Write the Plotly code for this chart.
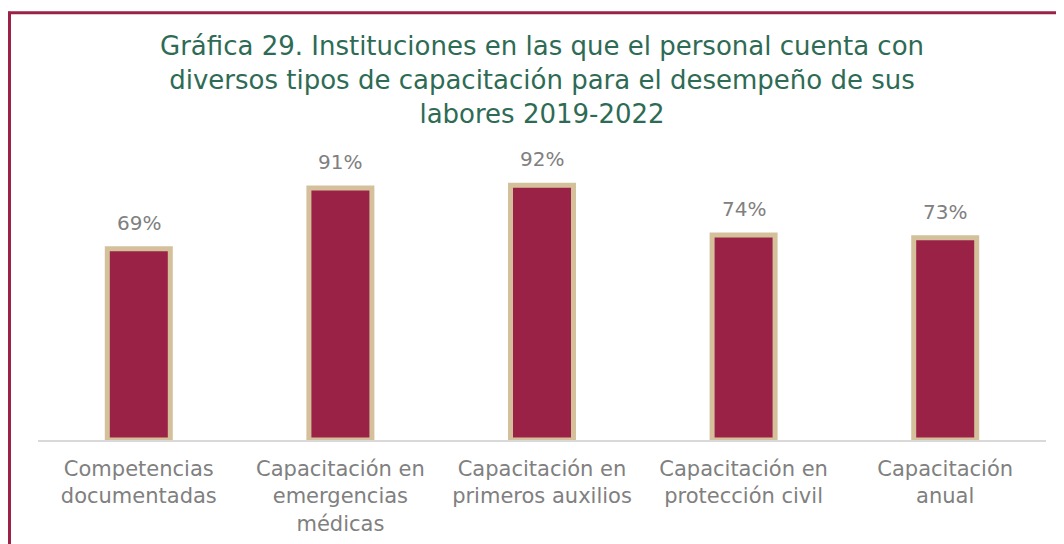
import plotly.graph_objects as go

categories = [
    "Competencias<br>documentadas",
    "Capacitación en<br>emergencias<br>médicas",
    "Capacitación en<br>primeros auxilios",
    "Capacitación en<br>protección civil",
    "Capacitación<br>anual",
]
values = [69, 91, 92, 74, 73]
value_labels = ["69%", "91%", "92%", "74%", "73%"]

title_text = ("Gráfica 29. Instituciones en las que el personal cuenta con<br>"
              "diversos tipos de capacitación para el desempeño de sus<br>"
              "labores 2019-2022")

# page body has an 8px margin: figure starts at screen (8, 8)
OFF = 8
W, H = 1064 - OFF, 544 - OFF
L, R = 38 - OFF, 18
T, B = 162.5 - OFF, 104
pw = W - L - R
ph = H - T - B

def px_x(sx):
    return (sx - OFF - L) / pw

def px_y(sy):
    return (H - B - (sy - OFF)) / ph

FONT = "DejaVu Sans"
MAROON = "#9B2247"
GOLD = "#D4C19C"
GRAY = "#808080"
GREEN = "#2E6B55"

fig = go.Figure()
fig.add_trace(go.Bar(
    x=categories, y=values, width=0.3125,
    marker=dict(color=MAROON, line=dict(color=GOLD, width=5)),
    hoverinfo="skip",
))

for c, v, t in zip(categories, values, value_labels):
    fig.add_annotation(x=c, y=v, text=t, showarrow=False, yanchor="bottom",
                       yshift=12, font=dict(family=FONT, size=20, color=GRAY))

fig.add_annotation(x=px_x(542), y=px_y(79), xref="paper", yref="paper",
                   text=title_text, showarrow=False, xanchor="center", yanchor="middle",
                   align="center", font=dict(family=FONT, size=26, color=GREEN))

fig.update_layout(
    width=W, height=H,
    margin=dict(l=L, r=R, t=T, b=B, autoexpand=False),
    paper_bgcolor="white", plot_bgcolor="white",
    showlegend=False,
    xaxis=dict(showgrid=False, showline=True, linecolor="#D9D9D9", linewidth=1.5,
               ticks="", ticklabelstandoff=9,
               tickfont=dict(family=FONT, size=21, color=GRAY)),
    yaxis=dict(range=[0, 100], visible=False, showgrid=False, zeroline=False),
    shapes=[
        dict(type="line", xref="paper", yref="paper",
             x0=px_x(9), x1=px_x(9), y0=px_y(11), y1=px_y(560),
             line=dict(color=MAROON, width=4)),
        dict(type="line", xref="paper", yref="paper",
             x0=px_x(7), x1=px_x(1070), y0=px_y(12), y1=px_y(12),
             line=dict(color=MAROON, width=3)),
    ],
)

fig.write_html("out.html")
